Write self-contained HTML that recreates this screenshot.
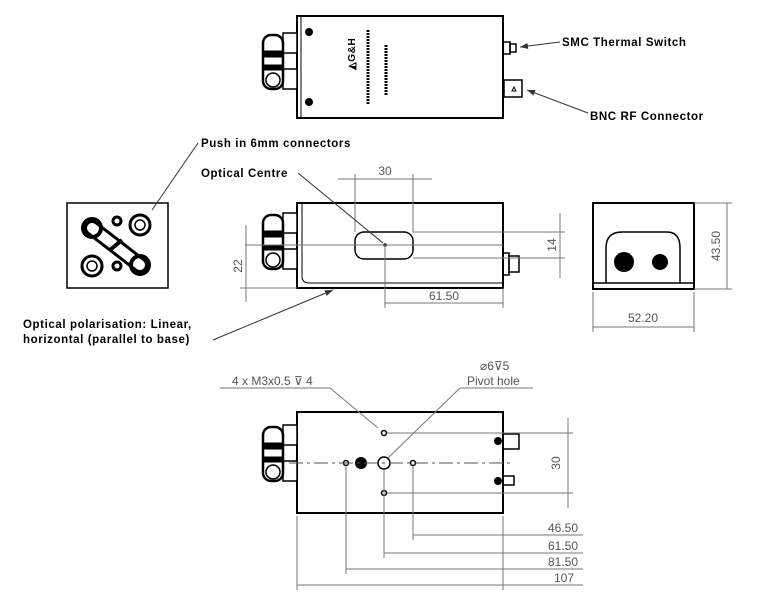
<!DOCTYPE html>
<html><head><meta charset="utf-8"><style>
html,body{margin:0;padding:0;background:#fff;}
svg{display:block}
.t{font-family:"Liberation Sans",sans-serif;font-weight:bold;font-size:11.5px;fill:#000;letter-spacing:0.6px}
.d{font-family:"Liberation Sans",sans-serif;font-size:12px;fill:#555}
</style></head><body>
<svg width="772" height="600" viewBox="0 0 772 600" xmlns="http://www.w3.org/2000/svg">
<defs>
<marker id="a" markerWidth="8" markerHeight="6" refX="8" refY="3" orient="auto"><path d="M0,0 L8,3 L0,6 z" fill="#333"/></marker>
<g id="conn">
 <rect x="283" y="0" width="14" height="20" fill="#fff" stroke="#000" stroke-width="1.5"/>
 <rect x="283" y="36" width="14" height="20" fill="#fff" stroke="#000" stroke-width="1.5"/>
 <rect x="263" y="2" width="20" height="54" rx="8" fill="#fff" stroke="#000" stroke-width="2.5"/>
 <rect x="263" y="18" width="20" height="6" fill="#000"/>
 <rect x="263" y="32" width="20" height="5" fill="#000"/>
 <circle cx="273" cy="47" r="7" fill="none" stroke="#000" stroke-width="1.5"/>
</g>
</defs>
<g fill="none" stroke="#000">
<!-- top view -->
<rect x="297" y="16" width="206" height="102" stroke-width="2"/>
<line x1="301" y1="16" x2="301" y2="118" stroke-width="1"/>
<circle cx="309" cy="32" r="3.5" fill="#000"/>
<circle cx="309" cy="102" r="3.5" fill="#000"/>
<use href="#conn" transform="translate(0,33)"/>
<rect x="503" y="42" width="7" height="12" stroke-width="1.5"/>
<rect x="510" y="44" width="6" height="8" stroke-width="1.5"/>
<rect x="504" y="80" width="18" height="17" stroke-width="1.5"/>
<path d="M512,91 l2,-4 l2,4 z" stroke-width="1"/>
</g>
<text x="355" y="70" transform="rotate(-90 355 70)" class="t" style="font-size:10px">◭G&amp;H</text>
<line x1="368" y1="30" x2="368" y2="105" stroke="#000" stroke-width="3" stroke-dasharray="2 1"/>
<line x1="386" y1="45" x2="386" y2="95" stroke="#000" stroke-width="3" stroke-dasharray="2 1"/>
<line x1="560" y1="42" x2="520" y2="47" stroke="#333" marker-end="url(#a)"/>
<line x1="588" y1="113" x2="527" y2="90" stroke="#333" marker-end="url(#a)"/>
<text x="562" y="46" class="t">SMC Thermal Switch</text>
<text x="590" y="120" class="t">BNC RF Connector</text>

<!-- left end view -->
<rect x="67" y="203" width="101" height="85" fill="none" stroke="#000" stroke-width="1.5"/>
<g stroke="#000" fill="none">
<line x1="92" y1="228" x2="140" y2="265" stroke-width="16" stroke-linecap="round"/>
<line x1="92" y1="228" x2="140" y2="265" stroke="#fff" stroke-width="10" stroke-linecap="round"/>
<circle cx="92" cy="228" r="9" stroke-width="4"/>
<circle cx="140" cy="265" r="9" stroke-width="4"/>
<line x1="110" y1="250" x2="122" y2="240" stroke-width="4"/>
<circle cx="140" cy="225" r="10" stroke-width="3"/><circle cx="140" cy="225" r="5" stroke-width="1.5"/>
<circle cx="92" cy="266" r="10" stroke-width="3"/><circle cx="92" cy="266" r="5" stroke-width="1.5"/>
<circle cx="117" cy="221" r="4" stroke-width="3"/>
<circle cx="117" cy="266" r="4" stroke-width="3"/>
</g>
<line x1="198" y1="143" x2="152" y2="210" stroke="#333"/>
<text x="201" y="147" class="t">Push in 6mm connectors</text>

<!-- side view -->
<g fill="none" stroke="#000">
<rect x="297" y="203" width="206" height="85" stroke-width="2"/>
<path d="M302,203 V276 Q302,283 309,283 H503" stroke-width="1"/>
<rect x="355" y="232" width="58" height="27" rx="9" stroke-width="1.5"/>
<use href="#conn" transform="translate(0,213)"/>
<rect x="503" y="253" width="6" height="22" stroke-width="1.5"/>
<rect x="509" y="256" width="10" height="16" stroke-width="1.5"/>
</g>
<circle cx="385" cy="245" r="1.8" fill="#000"/>
<g stroke="#777" stroke-width="1" fill="none">
<line x1="245" y1="245" x2="503" y2="245"/>
<line x1="385" y1="245" x2="385" y2="308"/>
<line x1="355" y1="232" x2="355" y2="174"/>
<line x1="413" y1="232" x2="413" y2="174"/>
<line x1="338" y1="179" x2="432" y2="179"/>
<line x1="413" y1="232" x2="565" y2="232"/>
<line x1="413" y1="258" x2="565" y2="258"/>
<line x1="560" y1="213" x2="560" y2="278"/>
<line x1="246" y1="225" x2="246" y2="302"/>
<line x1="240" y1="288" x2="297" y2="288"/>
<line x1="503" y1="288" x2="503" y2="308"/>
<line x1="385" y1="303" x2="503" y2="303"/>
</g>
<text x="385" y="175" class="d" text-anchor="middle">30</text>
<text x="556" y="245" class="d" text-anchor="middle" transform="rotate(-90 556 245)">14</text>
<text x="242" y="266" class="d" text-anchor="middle" transform="rotate(-90 242 266)">22</text>
<text x="444" y="300" class="d" text-anchor="middle">61.50</text>
<line x1="298" y1="173" x2="383" y2="243" stroke="#333"/>
<text x="201" y="177" class="t">Optical Centre</text>
<line x1="213" y1="340" x2="333" y2="290" stroke="#333" marker-end="url(#a)"/>
<text x="23" y="328" class="t">Optical polarisation: Linear,</text>
<text x="23" y="343" class="t">horizontal (parallel to base)</text>

<!-- right end view -->
<g fill="none" stroke="#000">
<rect x="593" y="203" width="101" height="86" stroke-width="2"/>
<line x1="593" y1="283" x2="694" y2="283" stroke-width="1.5"/>
<path d="M606,283 V248 Q606,232 622,232 H667 Q680,232 680,248 V283" stroke-width="1.5"/>
</g>
<circle cx="624" cy="262" r="10" fill="#000"/>
<circle cx="660" cy="262" r="8" fill="#000"/>
<g stroke="#777" fill="none">
<line x1="694" y1="203" x2="732" y2="203"/>
<line x1="694" y1="289" x2="732" y2="289"/>
<line x1="727" y1="203" x2="727" y2="289"/>
<line x1="593" y1="292" x2="593" y2="332"/>
<line x1="694" y1="292" x2="694" y2="332"/>
<line x1="593" y1="327" x2="694" y2="327"/>
</g>
<text x="720" y="246" class="d" text-anchor="middle" transform="rotate(-90 720 246)">43.50</text>
<text x="643" y="322" class="d" text-anchor="middle">52.20</text>

<!-- bottom view -->
<g fill="none" stroke="#000">
<rect x="297" y="412" width="206" height="101" stroke-width="2"/>
<use href="#conn" transform="translate(0,425)"/>
<circle cx="384" cy="433" r="2.5" stroke-width="1.5"/>
<circle cx="384" cy="493" r="2.5" stroke-width="1.5"/>
<circle cx="346" cy="463" r="2.5" stroke-width="1.5"/>
<circle cx="413" cy="463" r="2.5" stroke-width="1.5"/>
<circle cx="384" cy="463" r="6" stroke-width="1.5"/>
<rect x="503" y="434" width="16" height="15" stroke-width="1.5"/>
<rect x="503" y="476" width="11" height="9" stroke-width="1.5"/>
</g>
<circle cx="361" cy="463" r="6" fill="#000"/>
<circle cx="498" cy="441" r="4" fill="#000"/>
<circle cx="498" cy="481" r="4" fill="#000"/>
<line x1="289" y1="463" x2="512" y2="463" stroke="#555" stroke-dasharray="14 4 3 4"/>
<g stroke="#777" fill="none">
<line x1="387" y1="433" x2="573" y2="433"/>
<line x1="387" y1="493" x2="573" y2="493"/>
<line x1="568" y1="418" x2="568" y2="508"/>
<line x1="413" y1="466" x2="413" y2="540"/>
<line x1="384" y1="469" x2="384" y2="558"/>
<line x1="346" y1="466" x2="346" y2="574"/>
<line x1="297" y1="516" x2="297" y2="590"/>
<line x1="503" y1="516" x2="503" y2="590"/>
<line x1="413" y1="535" x2="583" y2="535"/>
<line x1="384" y1="553" x2="583" y2="553"/>
<line x1="346" y1="569" x2="583" y2="569"/>
<line x1="297" y1="585" x2="583" y2="585"/>
<line x1="220" y1="388" x2="330" y2="388"/>
<line x1="330" y1="388" x2="378" y2="428"/>
<line x1="533" y1="388" x2="460" y2="388"/>
<line x1="460" y1="388" x2="388" y2="458"/>
</g>
<text x="560" y="463" class="d" text-anchor="middle" transform="rotate(-90 560 463)">30</text>
<text x="578" y="532" class="d" text-anchor="end">46.50</text>
<text x="578" y="550" class="d" text-anchor="end">61.50</text>
<text x="578" y="566" class="d" text-anchor="end">81.50</text>
<text x="574" y="582" class="d" text-anchor="end">107</text>
<text x="232" y="385" class="d">4 x M3x0.5 ⊽ 4</text>
<text x="480" y="370" class="d">⌀6⊽5</text>
<text x="467" y="385" class="d">Pivot hole</text>
</svg>
</body></html>
